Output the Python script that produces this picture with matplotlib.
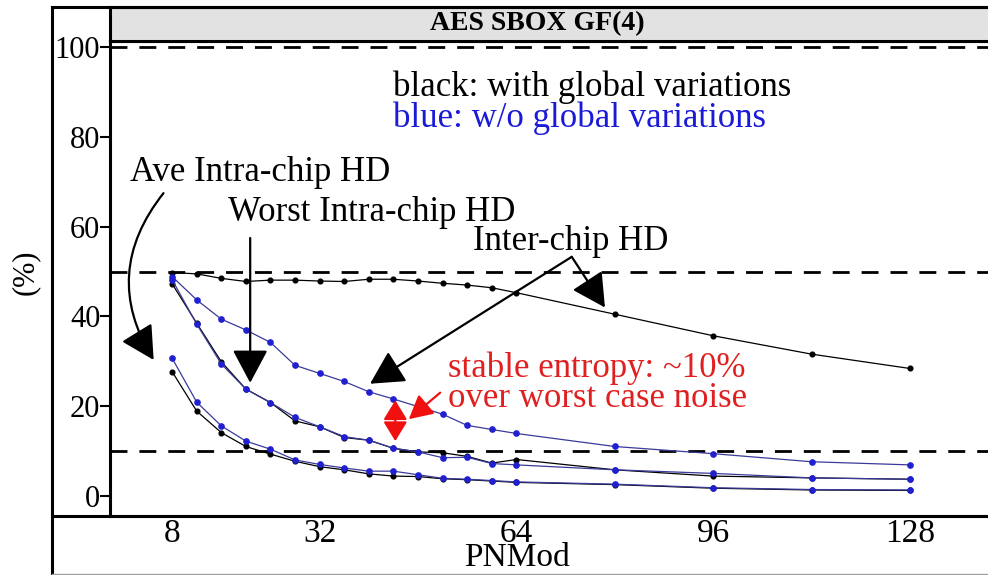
"""
AES SBOX GF(4): inter/intra-chip HD vs PNMod, lattice-style panel.
"""
import matplotlib
matplotlib.use("Agg")
import matplotlib.pyplot as plt
from matplotlib.lines import Line2D

plt.rcParams["font.family"] = ["Liberation Serif", "DejaVu Serif"]

pnmod = [8, 12, 16, 20, 24, 28, 32, 36, 40, 44, 48, 52, 56, 60, 64, 80, 96, 112, 128]

# black: with global variations
inter_black = [49.8, 49.5, 48.5, 47.8, 48.1, 48.1, 47.9, 47.8, 48.3, 48.3,
               47.9, 47.4, 47.0, 46.4, 45.3, 40.5, 35.7, 31.6, 28.4]
worst_black = [47.3, 38.5, 29.9, 23.8, 20.8, 16.7, 15.4, 13.0, 12.4, 10.6,
               9.8, 9.6, 8.8, 7.3, 8.1, 5.8, 4.4, 4.0, 3.7]
ave_black = [27.7, 18.9, 14.1, 11.0, 9.3, 7.7, 6.5, 5.8, 4.9, 4.4,
             4.3, 3.8, 3.6, 3.3, 3.0, 2.5, 1.7, 1.3, 1.2]

# blue: w/o global variations
inter_blue = [48.9, 43.7, 39.4, 37.0, 34.2, 29.1, 27.3, 25.5, 23.2, 21.6,
              19.9, 18.2, 15.7, 14.8, 13.9, 11.0, 9.4, 7.6, 6.9]
worst_blue = [48.2, 38.3, 29.4, 23.8, 20.8, 17.5, 15.4, 13.2, 12.4, 10.6,
              9.8, 8.5, 8.6, 7.2, 6.9, 5.8, 5.0, 4.0, 3.7]
ave_blue = [30.7, 20.9, 15.6, 12.2, 10.4, 8.0, 7.0, 6.2, 5.5, 5.5,
            4.7, 3.9, 3.7, 3.4, 3.1, 2.6, 1.8, 1.4, 1.3]

ref_levels = [100, 50, 10]
x_ticks = [8, 32, 64, 96, 128]
y_ticks = [0, 20, 40, 60, 80, 100]

W, H = 988, 575
fig = plt.figure(figsize=(W / 100, H / 100), dpi=100)

def fx(px):
    return px / W

def fy(py):
    return 1 - py / H

# main panel
ax = fig.add_axes([fx(110), fy(516), fx(988) - fx(110) + 0.01, fy(40.7) - fy(516)])
ax.set_xlim(-2.1, 128 + (988 + 10 - 910) / 6.15)
ax.set_ylim(-4.5, 101.5)
for s in ax.spines.values():
    s.set_linewidth(2.2)
ax.spines["right"].set_visible(False)

for lvl in ref_levels:
    ax.axhline(lvl, color="black", lw=2.0, ls=(0, (6.1, 4.3)), zorder=1)

black_kw = dict(color="black", lw=0.9, marker="o", ms=3.4, zorder=2)
blue_kw = dict(color="#3a3a9a", lw=0.9, marker="o", ms=3.8,
               mfc="#2020d0", mec="#2020d0", zorder=3)
for ys in (inter_black, worst_black, ave_black):
    ax.plot(pnmod, ys, **black_kw)
for ys in (inter_blue, worst_blue, ave_blue):
    ax.plot(pnmod, ys, **blue_kw)

ax.set_xticks(x_ticks)
ax.set_yticks(y_ticks)
ax.tick_params(axis="x", length=0, labelsize=24, pad=2)
ax.tick_params(axis="y", length=7, width=1.5, labelsize=22, pad=0)

# annotations
txt = dict(fontsize=25, va="center", ha="left")
ax.text(43.9, 91.2, "black: with global variations", color="black", **txt)
ax.text(43.9, 84.2, "blue: w/o global variations", color="#1a1ad8", **txt)
ax.text(1.2, 72.0, "Ave Intra-chip HD", color="black", **txt)
ax.text(17.1, 63.1, "Worst Intra-chip HD", color="black", **txt)
ax.text(56.9, 56.8, "Inter-chip HD", color="black", **txt)
ax.text(52.9, 28.4, "stable entropy: ~10%", color="#e02020", **txt)
ax.text(52.9, 21.7, "over worst case noise", color="#e02020", **txt)

arr = dict(arrowstyle="-|>,head_length=0.9,head_width=0.48", color="black",
           lw=1.6, mutation_scale=23, shrinkA=0, shrinkB=0)
ax.annotate("", xy=(5.0, 30.3), xytext=(6.6, 67.5),
            arrowprops=dict(connectionstyle="arc3,rad=0.35", **arr))
ax.annotate("", xy=(20.7, 25.2), xytext=(20.7, 57.5), arrowprops=arr)
ax.annotate("", xy=(78.4, 42.0), xytext=(73.0, 53.3), arrowprops=arr)
ax.annotate("", xy=(40.2, 25.0), xytext=(73.0, 53.3), arrowprops=arr)

red = dict(color="#f01010", lw=1.6, shrinkA=0, shrinkB=0)
ax.annotate("", xy=(44.3, 21.3), xytext=(44.3, 12.2),
            arrowprops=dict(arrowstyle="<|-|>,head_length=0.85,head_width=0.52",
                            mutation_scale=14, **red))
ax.annotate("", xy=(46.5, 17.1), xytext=(51.6, 23.0),
            arrowprops=dict(arrowstyle="-|>,head_length=0.9,head_width=0.48",
                            mutation_scale=16, **red))

# strip with title
strip = fig.add_axes([fx(110), fy(40.7), fx(988) - fx(110) + 0.01, fy(7) - fy(40.7)])
strip.set_facecolor("#e2e2e2")
strip.set_xticks([])
strip.set_yticks([])
for s in strip.spines.values():
    s.set_linewidth(2.2)
strip.spines["right"].set_visible(False)
fig.text(fx(537), fy(24), "AES SBOX GF(4)", ha="center", va="center",
         fontsize=20, fontweight="bold")

# outer frame lines
fig.add_artist(Line2D([fx(52), fx(52)], [fy(7), 0], color="black", lw=2.2))
fig.add_artist(Line2D([fx(52), 1], [fy(7), fy(7)], color="black", lw=2.2))
fig.add_artist(Line2D([fx(52), 1], [fy(516), fy(516)], color="black", lw=2.2))
fig.add_artist(Line2D([fx(52), 1], [fy(573.5), fy(573.5)], color="#a0a0a0", lw=1.0))

fig.text(fx(25), fy(272), "(%)", rotation=90, ha="center", va="center", fontsize=22)
fig.text(fx(517), fy(566), "PNMod", ha="center", va="baseline", fontsize=24)

fig.savefig("out.png", dpi=100)
